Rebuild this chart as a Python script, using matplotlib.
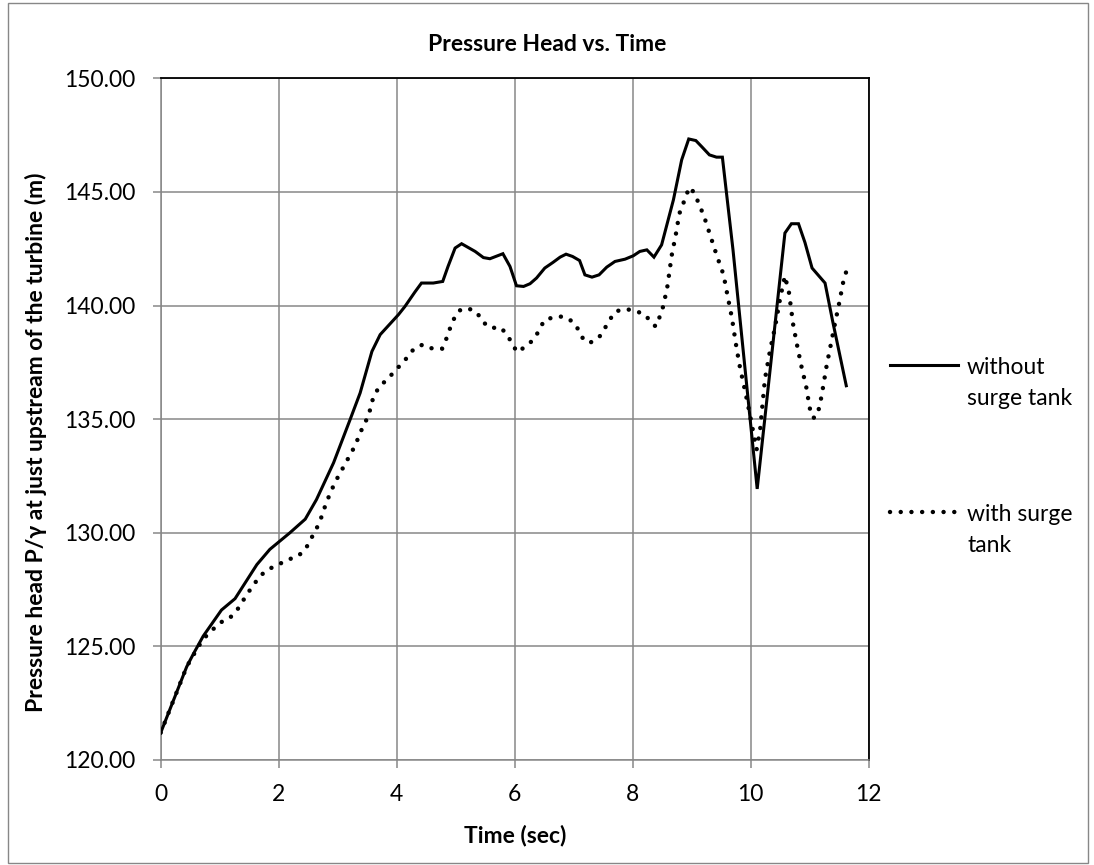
import matplotlib
matplotlib.use("Agg")
import matplotlib.pyplot as plt
from matplotlib.lines import Line2D
from matplotlib.patches import Rectangle
from matplotlib.ticker import FormatStrFormatter

plt.rcParams['font.family'] = ['Lato', 'DejaVu Sans']

# without surge tank
t_no_tank = [0, 0.44, 0.55, 0.72, 1.03, 1.26, 1.63, 1.85, 2.19, 2.45, 2.64, 2.93,
             3.21, 3.38, 3.58, 3.72, 4.03, 4.14, 4.31, 4.42, 4.62, 4.78, 4.87, 4.99,
             5.10, 5.33, 5.47, 5.58, 5.80, 5.92, 6.03, 6.15, 6.26, 6.37, 6.51, 6.65,
             6.77, 6.87, 6.98, 7.10, 7.19, 7.31, 7.43, 7.56, 7.70, 7.87, 8.01, 8.12,
             8.24, 8.36, 8.49, 8.69, 8.83, 8.95, 9.07, 9.17, 9.30, 9.42, 9.52, 9.70,
             10.11, 10.58, 10.69, 10.81, 10.92, 11.04, 11.26, 11.39, 11.62]
p_no_tank = [121.2, 124.1, 124.65, 125.45, 126.6, 127.1, 128.6, 129.27, 130.0, 130.6,
             131.46, 133.08, 134.98, 136.15, 137.98, 138.72, 139.6, 139.96, 140.6,
             140.99, 140.99, 141.06, 141.72, 142.53, 142.72, 142.38, 142.11, 142.06,
             142.28, 141.72, 140.87, 140.84, 140.96, 141.21, 141.65, 141.9, 142.13,
             142.26, 142.16, 141.98, 141.35, 141.25, 141.35, 141.69, 141.94, 142.04,
             142.19, 142.38, 142.45, 142.13, 142.67, 144.65, 146.41, 147.33, 147.26,
             146.99, 146.63, 146.53, 146.53, 142.45, 131.93, 143.19, 143.6, 143.6,
             142.77, 141.65, 140.99, 139.3, 136.47]

# with surge tank
t_tank = [0, 0.44, 0.64, 0.75, 1.0, 1.16, 1.29, 1.48, 1.68, 1.82, 2.0, 2.13, 2.31,
          2.45, 2.53, 2.62, 2.70, 2.81, 2.95, 3.12, 3.29, 3.43, 3.52, 3.60, 3.69,
          3.94, 4.17, 4.29, 4.44, 4.61, 4.77, 4.84, 4.90, 4.97, 5.06, 5.20, 5.36,
          5.45, 5.59, 5.76, 5.87, 5.96, 6.04, 6.20, 6.33, 6.42, 6.50, 6.65, 6.82,
          6.98, 7.08, 7.16, 7.27, 7.43, 7.53, 7.62, 7.71, 7.87, 8.04, 8.21, 8.32,
          8.39, 8.46, 8.52, 8.59, 8.66, 8.73, 8.79, 8.86, 8.92, 8.98, 9.07, 9.14,
          9.21, 9.32, 9.43, 9.54, 9.61, 9.68, 9.76, 9.82, 9.90, 9.97, 10.04, 10.10,
          10.16, 10.24, 10.33, 10.41, 10.50, 10.58, 10.65, 10.72, 10.79, 10.86,
          10.94, 11.0, 11.06, 11.13, 11.2, 11.29, 11.36, 11.43, 11.50, 11.57, 11.62]
p_tank = [121.2, 124.1, 125.0, 125.4, 126.04, 126.22, 126.58, 127.36, 128.09, 128.39,
          128.6, 128.8, 128.94, 129.25, 129.66, 130.07, 130.51, 131.35, 132.2, 133.0,
          133.81, 134.69, 135.13, 135.93, 136.37, 137.03, 137.69, 138.09, 138.28,
          138.1, 138.1, 138.53, 138.97, 139.41, 139.78, 139.89, 139.7, 139.3, 139.01,
          139.04, 138.72, 138.31, 137.95, 138.22, 138.53, 138.94, 139.35, 139.48,
          139.52, 139.3, 138.94, 138.53, 138.35, 138.6, 139.01, 139.41, 139.74,
          139.85, 139.77, 139.6, 139.23, 139.08, 139.52, 139.99, 140.87, 142.19,
          143.11, 144.04, 144.51, 144.95, 145.21, 144.8, 144.36, 143.92, 143.04,
          142.16, 141.35, 140.4, 139.48, 138.13, 137.25, 136.3, 135.42, 134.47,
          133.66, 134.54, 136.74, 138.06, 139.01, 140.33, 141.3, 140.55, 139.16,
          138.2, 137.32, 136.44, 135.49, 135.05, 135.16, 136.0, 137.4, 138.31,
          139.23, 140.11, 141.06, 141.5]

labels = [["without", "surge tank"], ["with surge", "tank"]]
x_ticks = [0, 2, 4, 6, 8, 10, 12]
y_ticks = [120, 125, 130, 135, 140, 145, 150]

W, H = 1094, 865
fig = plt.figure(figsize=(W / 100, H / 100), dpi=100)
ax = fig.add_axes([160.7 / W, 1 - 760 / H, 708 / W, (760 - 78.3) / H])

grey = '#878787'
dotted = (0, (0.01, 2.4))

ax.plot(t_no_tank, p_no_tank, color='black', lw=2.2, solid_joinstyle='miter', zorder=3)
ax.plot(t_tank, p_tank, color='black', lw=3.2, linestyle=dotted,
        dash_capstyle='round', zorder=3)

ax.set_xlim(0, 12)
ax.set_ylim(120, 150)
ax.set_xticks(x_ticks)
ax.set_yticks(y_ticks)
ax.yaxis.set_major_formatter(FormatStrFormatter('%.2f'))
ax.grid(True, color=grey, lw=1.1)
ax.set_axisbelow(True)

for s in ['left', 'bottom']:
    ax.spines[s].set_color(grey)
    ax.spines[s].set_linewidth(1.1)
for s in ['top', 'right']:
    ax.spines[s].set_color('black')
    ax.spines[s].set_linewidth(1.3)

ax.tick_params(axis='both', direction='out', length=6, width=1.1, color=grey,
               labelsize=16.5, labelcolor='black')
ax.tick_params(axis='y', pad=12)
ax.tick_params(axis='x', pad=11.5)

ax.set_xlabel('Time (sec)', fontsize=16.5, fontweight='bold', labelpad=14)
ax.set_ylabel('Pressure head P/\u03b3 at just upstream of the turbine (m)',
              fontsize=16.5, fontweight='bold')
ax.yaxis.set_label_coords(-0.160, 0.466)

fig.text(547 / W, 1 - 51 / H, 'Pressure Head vs. Time', ha='center', va='baseline',
         fontsize=16.5, fontweight='bold')

# legend drawn to the right of the plot
for i, (ls, lw) in enumerate([('-', 2.2), (dotted, 3.2)]):
    yl = [365, 512][i]
    fig.add_artist(Line2D([890 / W, 958 / W], [1 - yl / H, 1 - yl / H], color='black',
                          lw=lw, linestyle=ls, dash_capstyle='round',
                          transform=fig.transFigure))
    for j, line in enumerate(labels[i]):
        fig.text(967 / W, 1 - (yl + 9 + 31 * j) / H, line, ha='left', va='baseline',
                 fontsize=16.5)

fig.add_artist(Rectangle((8 / W, 2 / H), 1080 / W, 860 / H, transform=fig.transFigure,
                         fill=False, edgecolor=grey, lw=1.0))

fig.savefig('out.png', dpi=100)
